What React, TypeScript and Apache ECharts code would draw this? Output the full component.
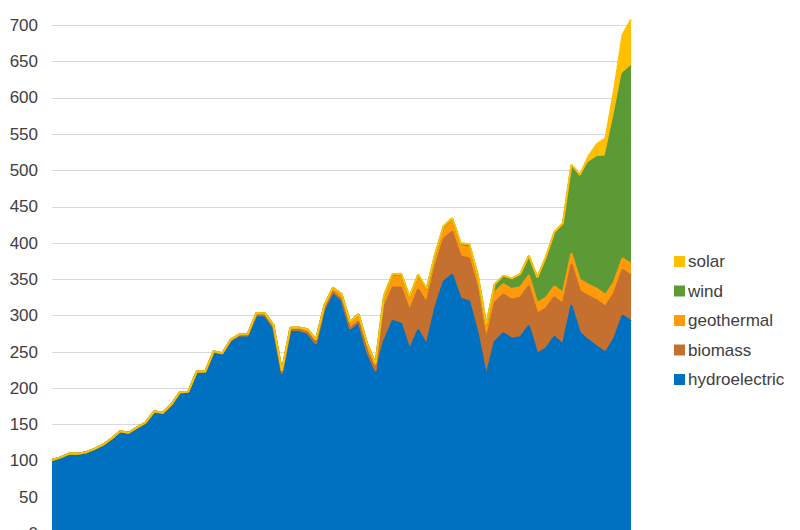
import React, { useEffect, useRef } from "react";
import * as echarts from "echarts";

const years: string[] = [];
for (let y = 1950; y <= 2018; y++) years.push(String(y));

const hydroelectric = [
  100.9, 104.4, 109.7, 109.6, 111.6, 116.2, 122.0, 130.6, 140.5, 138.6,
  146.0, 152.6, 168.0, 165.8, 177.1, 193.9, 194.8, 222.5, 222.5, 250.2,
  247.7, 266.3, 272.6, 272.7, 301.0, 300.0, 283.7, 220.3, 280.4, 279.8,
  276.0, 261.0, 309.2, 332.1, 321.2, 281.1, 290.8, 249.7, 222.9, 265.1,
  292.9, 289.0, 253.1, 280.5, 260.1, 310.8, 347.2, 356.5, 323.3, 319.5,
  275.6, 217.0, 264.3, 275.8, 268.4, 270.3, 286.0, 247.5, 254.8, 271.0,
  260.2, 314.0, 276.2, 266.0, 257.0, 249.1, 267.8, 300.3, 292.5,
];

const biomass = [
  0.4, 0.4, 0.4, 0.3, 0.3, 0.3, 0.3, 0.2, 0.2, 0.2,
  0.1, 0.2, 0.2, 0.2, 0.2, 0.3, 0.3, 0.3, 0.3, 0.2,
  0.2, 0.2, 0.2, 0.1, 0.1, 0.1, 0.1, 0.1, 0.1, 0.1,
  0.3, 0.3, 0.4, 0.4, 0.8, 0.8, 0.9, 0.9, 0.9, 46.0,
  45.8, 49.4, 53.8, 55.9, 57.5, 56.9, 58.3, 59.3, 58.2, 59.2,
  60.7, 49.7, 53.7, 53.3, 53.5, 54.3, 54.9, 55.5, 55.0, 54.5,
  56.1, 56.7, 57.6, 60.9, 64.0, 63.6, 62.8, 62.8, 62.8,
];

const geothermal = [
  0, 0, 0, 0, 0, 0, 0, 0, 0, 0,
  0.03, 0.1, 0.1, 0.2, 0.3, 0.2, 0.2, 0.3, 0.4, 0.7,
  0.5, 0.5, 1.5, 2.0, 2.5, 3.2, 3.6, 3.6, 3.0, 3.9,
  5.1, 5.7, 4.8, 6.1, 7.7, 9.3, 10.3, 10.8, 10.3, 14.6,
  15.4, 16.0, 16.1, 16.8, 15.5, 13.4, 14.3, 14.7, 14.8, 14.8,
  14.1, 13.7, 14.5, 14.4, 14.8, 14.7, 14.6, 14.6, 14.8, 15.0,
  15.2, 15.3, 15.6, 15.8, 15.9, 15.9, 15.8, 15.9, 16.0,
];

const wind = [
  0, 0, 0, 0, 0, 0, 0, 0, 0, 0,
  0, 0, 0, 0, 0, 0, 0, 0, 0, 0,
  0, 0, 0, 0, 0, 0, 0, 0, 0, 0,
  0, 0, 0, 0, 0, 0, 0, 0, 0, 2.1,
  2.8, 2.95, 2.9, 3.0, 3.4, 3.2, 3.2, 3.3, 3.0, 4.5,
  5.6, 6.7, 10.4, 11.2, 14.1, 17.8, 26.6, 34.5, 55.4, 73.9,
  94.7, 120.2, 140.8, 167.8, 181.7, 190.7, 227.0, 254.3, 272.7,
];

const solar = [
  0, 0, 0, 0, 0, 0, 0, 0, 0, 0,
  0, 0, 0, 0, 0, 0, 0, 0, 0, 0,
  0, 0, 0, 0, 0, 0, 0, 0, 0, 0,
  0, 0, 0, 0, 0, 0, 0, 0, 0, 0.3,
  0.37, 0.4, 0.4, 0.46, 0.48, 0.5, 0.5, 0.5, 0.5, 0.5,
  0.49, 0.54, 0.55, 0.53, 0.58, 0.55, 0.51, 0.61, 0.86, 0.89,
  1.2, 1.8, 4.3, 9.0, 17.7, 24.9, 36.1, 53.3, 63.8,
];

const seriesNames = ["hydroelectric", "biomass", "geothermal", "wind", "solar"];
const legendOrder = ["solar", "wind", "geothermal", "biomass", "hydroelectric"];
const yTicks = { min: 0, max: 750, interval: 50, lastLabel: 700 };

const COLORS: Record<string, string> = {
  hydroelectric: "#0070C0",
  biomass: "#C5702F",
  geothermal: "#FF9A0A",
  wind: "#5B9A35",
  solar: "#FFC000",
};

export default function App() {
  const ref = useRef<HTMLDivElement>(null);

  useEffect(() => {
    if (!ref.current) return;
    const chart = echarts.init(ref.current, null, { renderer: "svg" });
    const dataMap: Record<string, number[]> = {
      hydroelectric,
      biomass,
      geothermal,
      wind,
      solar,
    };
    chart.setOption({
      animation: false,
      backgroundColor: "#ffffff",
      grid: {
        left: 52,
        right: 169,
        top: -11,
        bottom: -3.5,
        containLabel: false,
        outerBoundsMode: "none",
      },
      legend: {
        data: legendOrder,
        orient: "vertical",
        left: 669,
        top: 248,
        itemWidth: 11,
        itemHeight: 11,
        itemGap: 12.5,
        icon: "rect",
        itemStyle: { borderWidth: 0 },
        textStyle: {
          fontSize: 17,
          color: "#404040",
          fontFamily: "Liberation Sans, Arial, sans-serif",
          padding: [0, 0, 0, -2],
        },
      },
      xAxis: {
        type: "category",
        data: years,
        boundaryGap: false,
        axisLine: { show: false },
        axisTick: { show: false },
        axisLabel: { show: false },
        splitLine: { show: false },
      },
      yAxis: {
        type: "value",
        min: yTicks.min,
        max: yTicks.max,
        interval: yTicks.interval,
        axisLine: { show: false },
        axisTick: { show: false },
        axisLabel: {
          fontSize: 17,
          color: "#404040",
          fontFamily: "Liberation Sans, Arial, sans-serif",
          margin: 14,
          formatter: (v: number) => (v > yTicks.lastLabel ? "" : String(v)),
        },
        splitLine: { lineStyle: { color: "#d9d9d9", width: 1 } },
      },
      series: seriesNames.map((name) => ({
        name,
        type: "line",
        stack: "total",
        data: dataMap[name],
        symbol: "none",
        showSymbol: false,
        smooth: false,
        itemStyle: { color: COLORS[name] },
        lineStyle: { color: COLORS[name], width: 2 },
        areaStyle: { color: COLORS[name], opacity: 1 },
        emphasis: { disabled: true },
      })),
    });
    return () => chart.dispose();
  }, []);

  return (
    <div
      ref={ref}
      style={{ position: "absolute", left: 0, top: 0, width: 800, height: 530 }}
    />
  );
}
